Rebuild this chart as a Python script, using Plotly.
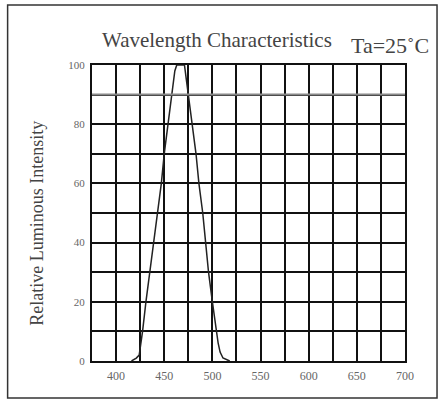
import plotly.graph_objects as go

# Data
wavelength = [416, 421, 424, 427.5, 431, 435, 439, 443, 447, 450, 454, 458, 461, 463,
              471, 473, 475, 479, 483, 486, 490, 493, 496, 500, 504, 506, 508, 511, 518]
intensity = [0, 1, 2, 10, 20, 30, 40, 50, 60, 70, 80, 90, 98, 100,
             100, 95, 90, 80, 70, 60, 50, 40, 30, 20, 10, 6, 3, 1, 0]
x_ticks = [400, 450, 500, 550, 600, 650, 700]
y_ticks = [0, 20, 40, 60, 80, 100]

SERIF = "Liberation Serif, Times New Roman, serif"

L, R, T, B = 92.3, 405.0, 65.0, 361.0
PW, PH = R - L, B - T


def px(xp):
    return (xp - L) / PW


def py(yp):
    return (B - yp) / PH


fig = go.Figure()
fig.add_trace(go.Scatter(x=wavelength, y=intensity, mode="lines",
                         line=dict(color="#222222", width=1.5),
                         showlegend=False, hoverinfo="skip"))

# grey line at 90
fig.add_shape(type="line", xref="paper", x0=0, x1=1, yref="y", y0=90, y1=90,
              line=dict(color="#8a8a8a", width=2), layer="above")

# outer frame of the picture
fig.add_shape(type="rect", xref="paper", yref="paper",
              x0=px(8), x1=px(437), y0=py(398), y1=py(5),
              line=dict(color="#333333", width=1.5), layer="below")

fig.update_layout(
    width=446, height=402,
    margin=dict(l=92, r=41, t=65, b=41),
    paper_bgcolor="white", plot_bgcolor="white",
    font=dict(family=SERIF, color="#555555"),
    annotations=[
        dict(text="Wavelength Characteristics", xref="paper", yref="paper",
             x=px(217), y=py(40), xanchor="center", yanchor="middle",
             showarrow=False, font=dict(family=SERIF, size=21, color="#444444")),
        dict(text="Ta=25˚C", xref="paper", yref="paper",
             x=px(390), y=py(45), xanchor="center", yanchor="middle",
             showarrow=False, font=dict(family=SERIF, size=22, color="#444444")),
        dict(text="Relative Luminous Intensity", xref="paper", yref="paper",
             x=px(37), y=py(223), xanchor="center", yanchor="middle",
             textangle=-90, showarrow=False,
             font=dict(family=SERIF, size=18, color="#444444")),
    ],
)

fig.update_xaxes(range=[375, 700], tickvals=x_ticks, ticktext=[str(v) for v in x_ticks],
                 showgrid=True, gridcolor="#111111", gridwidth=2,
                 minor=dict(tick0=375, dtick=25, showgrid=True, gridcolor="#111111", gridwidth=2),
                 showline=True, linecolor="#111111", linewidth=2, mirror=True,
                 ticks="", ticklabelstandoff=3, zeroline=False,
                 tickfont=dict(family=SERIF, size=12, color="#666666"))
fig.update_yaxes(range=[0, 100], tickvals=y_ticks, ticktext=[str(v) for v in y_ticks],
                 showgrid=True, gridcolor="#111111", gridwidth=2,
                 minor=dict(tick0=0, dtick=10, showgrid=True, gridcolor="#111111", gridwidth=2),
                 showline=True, linecolor="#111111", linewidth=2, mirror=True,
                 ticks="", ticklabelstandoff=3, zeroline=False,
                 tickfont=dict(family=SERIF, size=11, color="#666666"))

fig.write_html("out.html", config={"displayModeBar": False},
               post_script="document.body.style.margin='0';")
